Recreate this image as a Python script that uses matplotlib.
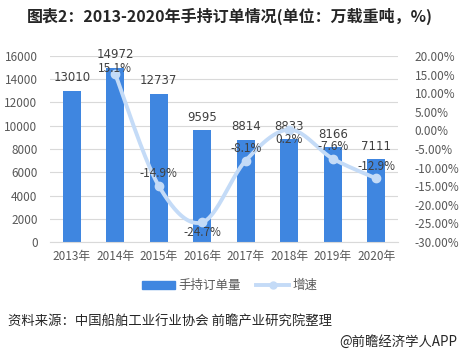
import numpy as np
import matplotlib
matplotlib.use("Agg")
import matplotlib.pyplot as plt
from matplotlib.lines import Line2D
from matplotlib.patches import Patch
from matplotlib.ticker import FuncFormatter

plt.rcParams['font.family'] = ['Noto Sans CJK SC', 'DejaVu Sans']

# ---- data ----
years = ["2013年", "2014年", "2015年", "2016年", "2017年", "2018年", "2019年", "2020年"]
orders = [13010, 14972, 12737, 9595, 8814, 8833, 8166, 7111]
growth = [15.1, -14.9, -24.7, -8.1, 0.2, -7.6, -12.9]   # 2014-2020
growth_labels = ["15.1%", "-14.9%", "-24.7%", "-8.1%", "0.2%", "-7.6%", "-12.9%"]
label_below = [False, False, True, False, True, False, False]

BAR_C = "#3F86E0"
LINE_C = "#C4DBF7"
TXT_C = "#595959"

fig = plt.figure(figsize=(4.6, 3.56), dpi=100)
ax = fig.add_axes([0.1087, 0.320, 0.7565, 0.523])
ax2 = ax.twinx()

x = np.arange(len(years))
ax.bar(x, orders, width=0.41, color=BAR_C, zorder=2)
ax.set_xlim(-0.5, 7.5)
ax.set_ylim(0, 16000)
ax.set_yticks(np.arange(0, 16001, 2000))
ax.set_xticks(x)
ax.set_xticklabels(years)
ax.grid(axis="y", color="#D9D9D9", linewidth=0.8, zorder=0)
ax.set_axisbelow(True)
for s in ["top", "left", "right"]:
    ax.spines[s].set_visible(False)
    ax2.spines[s].set_visible(False)
ax2.spines["bottom"].set_visible(False)
ax.spines["bottom"].set_color("#D9D9D9")
ax.tick_params(axis="x", length=0, labelsize=8.5, colors=TXT_C, pad=6)
ax.tick_params(axis="y", length=0, labelsize=8.5, colors=TXT_C, pad=9)
ax2.tick_params(axis="y", length=0, labelsize=8.5, colors=TXT_C, pad=12)

ax2.set_ylim(-30, 20)
ax2.set_yticks(np.arange(-30, 21, 5))
ax2.yaxis.set_major_formatter(FuncFormatter(lambda v, p: f"{v:.2f}%"))

# smoothed line (catmull-rom style bezier in pixel-like space)
gx = x[1:].astype(float)
gy = np.array(growth)
sx, sy = 43.7, 3.72
px, py = gx * sx, gy * sy
curve_x, curve_y = [], []
n = len(px)
for i in range(n - 1):
    p0 = (px[max(i - 1, 0)], py[max(i - 1, 0)])
    p1 = (px[i], py[i])
    p2 = (px[i + 1], py[i + 1])
    p3 = (px[min(i + 2, n - 1)], py[min(i + 2, n - 1)])
    c1 = (p1[0] + (p2[0] - p0[0]) / 6, p1[1] + (p2[1] - p0[1]) / 6)
    c2 = (p2[0] - (p3[0] - p1[0]) / 6, p2[1] - (p3[1] - p1[1]) / 6)
    t = np.linspace(0, 1, 40)
    bx = (1 - t) ** 3 * p1[0] + 3 * (1 - t) ** 2 * t * c1[0] + 3 * (1 - t) * t ** 2 * c2[0] + t ** 3 * p2[0]
    by = (1 - t) ** 3 * p1[1] + 3 * (1 - t) ** 2 * t * c1[1] + 3 * (1 - t) * t ** 2 * c2[1] + t ** 3 * p2[1]
    curve_x.extend(bx)
    curve_y.extend(by)
ax2.plot(np.array(curve_x) / sx, np.array(curve_y) / sy, color=LINE_C, linewidth=2.8,
         solid_capstyle="round", zorder=3)
ax2.plot(gx, gy, "o", color=LINE_C, markersize=6, zorder=4)

# labels
for xi, v in zip(x, orders):
    ax.annotate(str(v), (xi, v), xytext=(0, 13), textcoords="offset pixels",
                ha="center", va="center", fontsize=8.5, color="#404040",
                family=["DejaVu Sans"])
for xi, v, lab, below in zip(gx, gy, growth_labels, label_below):
    dy = -10 if below else 12
    if xi == 1:
        dy = 6
    ax2.annotate(lab, (xi, v), xytext=(0, dy), textcoords="offset pixels",
                 ha="center", va="center", fontsize=8.5, color="#404040", zorder=5)

fig.text(0.5, 0.955, "图表2：2013-2020年手持订单情况(单位：万载重吨，%)", ha="center",
         va="center", fontsize=11.5, fontweight="bold", color="#262626")

handles = [Patch(color=BAR_C),
           Line2D([0], [0], color=LINE_C, linewidth=2.8, marker="o", markersize=5)]
fig.legend(handles, ["手持订单量", "增速"], loc="center", bbox_to_anchor=(0.5, 0.198),
           ncol=2, frameon=False, fontsize=9, handlelength=2.6, handleheight=0.6,
           columnspacing=1.2, handletextpad=0.3, labelcolor=TXT_C)

fig.text(0.017, 0.096, "资料来源：中国船舶工业行业协会 前瞻产业研究院整理", ha="left",
         va="center", fontsize=9.6, color="#262626")
fig.text(0.995, 0.039, "@前瞻经济学人APP", ha="right", va="center", fontsize=9.6,
         color="#262626")

fig.savefig("out.png", dpi=100)
